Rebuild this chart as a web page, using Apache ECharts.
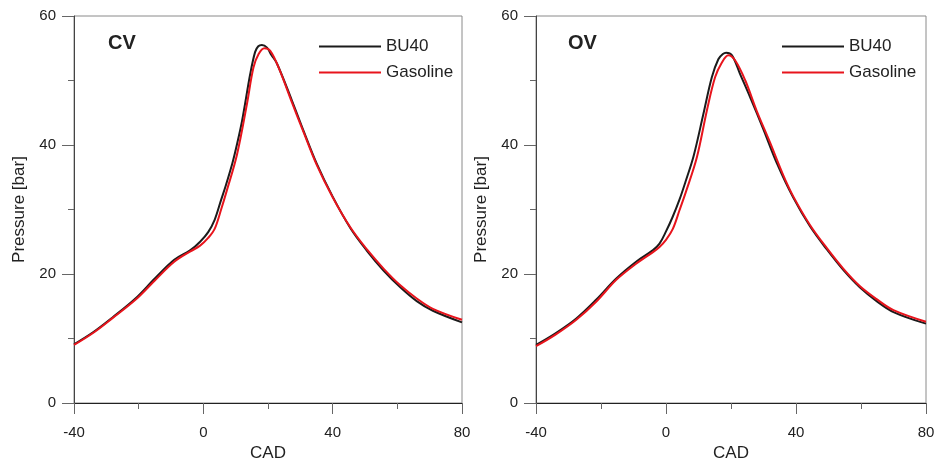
<!DOCTYPE html>
<html>
<head>
<meta charset="utf-8">
<script src="https://cdn.jsdelivr.net/npm/echarts@6/dist/echarts.min.js"></script>
<style>html,body{margin:0;padding:0;background:#fff}#c{width:935px;height:459px}</style>
</head>
<body>
<div id="c"></div>
<script>
// ---- data ----
const panelTitles = ['CV', 'OV'];
const seriesNames = ['BU40', 'Gasoline'];
const xTicks = [-40, 0, 40, 80];
const yTicks = [0, 20, 40, 60];

const cvBu40X = [-40, -34, -28, -21, -15, -9, -4, -1, 1.5, 3.5, 5.5, 7, 9, 10.5, 12, 14.5, 16, 17, 18.1, 19.7, 21, 22.8, 27.4, 31, 35, 40, 45.5, 50.6, 55.8, 61, 66, 71, 80];
const cvBu40Y = [9.1, 11.0, 13.3, 16.2, 19.3, 22.2, 23.7, 25.0, 26.5, 28.4, 31.5, 33.8, 37.2, 40.3, 43.8, 51.0, 54.4, 55.3, 55.5, 55.1, 54.0, 52.6, 46.9, 42.2, 37.2, 32.0, 27.1, 23.6, 20.5, 17.9, 15.8, 14.3, 12.5];

const cvGasX = [-40, -34, -28, -21, -15, -9, -4, -1, 1.5, 3.5, 5.5, 7.3, 10.4, 13.5, 15.5, 17.1, 18.9, 20.7, 23.3, 27.4, 31, 35, 40, 45.5, 50.6, 55.8, 61, 66, 71, 80];
const cvGasY = [9.0, 10.9, 13.2, 16.0, 19.0, 21.9, 23.5, 24.4, 25.6, 27.0, 30.0, 33.0, 38.5, 46.4, 52.0, 54.1, 55.0, 54.6, 52.0, 46.6, 42.0, 37.0, 31.9, 27.2, 23.8, 20.8, 18.2, 16.2, 14.6, 12.9];

const ovBu40X = [-40, -34, -27.6, -21.5, -15.3, -9.2, -4, -2, 0, 2, 4.2, 6, 8.5, 11.5, 14.1, 16.1, 17.5, 18.5, 20.3, 22.8, 25.9, 30, 34.1, 39.2, 44.3, 49.5, 54.6, 59.7, 64.8, 70, 80];
const ovBu40Y = [9.0, 10.8, 13.1, 16.0, 19.3, 21.9, 23.7, 24.7, 26.6, 28.8, 31.6, 34.3, 38.3, 44.8, 50.5, 53.3, 54.1, 54.3, 53.9, 51.0, 47.4, 42.4, 37.2, 31.8, 27.4, 23.8, 20.6, 17.9, 15.8, 14.1, 12.3];

const ovGasX = [-40, -34, -27.6, -21.5, -15.3, -9.2, -4, -2, 0, 2.1, 4.1, 6.3, 9.5, 12.6, 15.1, 17.2, 19.2, 21.3, 24.4, 27.9, 32, 36.1, 39.2, 44.3, 49.5, 54.6, 59.7, 64.8, 70, 80];
const ovGasY = [8.8, 10.6, 12.9, 15.7, 19.1, 21.6, 23.4, 24.2, 25.3, 27.0, 29.8, 33.0, 38.1, 45.4, 50.5, 52.8, 53.9, 53.1, 50.0, 45.3, 40.4, 35.3, 32.0, 27.6, 24.0, 20.8, 18.1, 16.1, 14.4, 12.6];

// ---- build ----
const pairs = (xs, ys) => xs.map((x, i) => [x, ys[i]]);
const panels = [
  { left: 74, width: 388, legendLeft: 313, titleLeft: 103, data: [pairs(cvBu40X, cvBu40Y), pairs(cvGasX, cvGasY)] },
  { left: 536, width: 390, legendLeft: 776, titleLeft: 563, data: [pairs(ovBu40X, ovBu40Y), pairs(ovGasX, ovGasY)] }
];
const colors = ['#1b1b1b', '#e8141c'];
const txt = '#222';
const font = 'Liberation Sans, Arial, sans-serif';

const option = {
  animation: false,
  textStyle: { fontFamily: font },
  title: panels.map((p, i) => ({
    text: panelTitles[i], left: p.titleLeft, top: 28,
    textStyle: { fontSize: 20, fontWeight: 'bold', color: txt, fontFamily: font }
  })),
  legend: panels.map(p => ({
    data: seriesNames, left: p.legendLeft, top: 33, orient: 'vertical',
    itemWidth: 62, itemHeight: 14, itemGap: 9,
    itemStyle: { opacity: 0, borderWidth: 0 },
    lineStyle: { width: 2 },
    textStyle: { fontSize: 17, color: txt, fontFamily: font }
  })),
  grid: panels.map(p => ({
    left: p.left, width: p.width, top: 16, height: 387,
    outerBoundsMode: 'none', containLabel: false,
    show: true, borderColor: '#8a8a8a', borderWidth: 1
  })),
  xAxis: panels.map((p, i) => ({
    type: 'value', gridIndex: i, min: -40, max: 80, interval: 40,
    name: 'CAD', nameLocation: 'middle', nameGap: 39,
    nameTextStyle: { fontSize: 17, color: txt, fontFamily: font },
    axisLine: { onZero: false, lineStyle: { color: '#222', width: 1 } },
    axisTick: { show: true, length: 11, lineStyle: { color: '#666' } },
    minorTick: { show: true, splitNumber: 2, length: 6, lineStyle: { color: '#666' } },
    axisLabel: { fontSize: 15, color: txt, margin: 22, fontFamily: font,
      formatter: v => xTicks.includes(v) ? String(v) : '' },
    splitLine: { show: false }
  })),
  yAxis: panels.map((p, i) => ({
    type: 'value', gridIndex: i, min: 0, max: 60, interval: 20,
    name: 'Pressure [bar]', nameLocation: 'middle', nameGap: 46,
    nameTextStyle: { fontSize: 17, color: txt, fontFamily: font },
    axisLine: { show: true, onZero: false, lineStyle: { color: '#444', width: 1 } },
    axisTick: { show: true, length: 12, lineStyle: { color: '#666' } },
    minorTick: { show: true, splitNumber: 2, length: 6, lineStyle: { color: '#666' } },
    axisLabel: { fontSize: 15, color: txt, margin: 18, fontFamily: font,
      formatter: v => yTicks.includes(v) ? String(v) : '' },
    splitLine: { show: false }
  })),
  series: []
};
panels.forEach((p, i) => {
  seriesNames.forEach((n, k) => {
    option.series.push({
      name: n, type: 'line', xAxisIndex: i, yAxisIndex: i,
      data: p.data[k], symbol: 'none', showSymbol: false, smooth: 0.35,
      lineStyle: { color: colors[k], width: 2 }, itemStyle: { color: colors[k] },
      z: k === 0 ? 2 : 3
    });
  });
});
const chart = echarts.init(document.getElementById('c'), null, { renderer: 'canvas' });
chart.setOption(option);
</script>
</body>
</html>
